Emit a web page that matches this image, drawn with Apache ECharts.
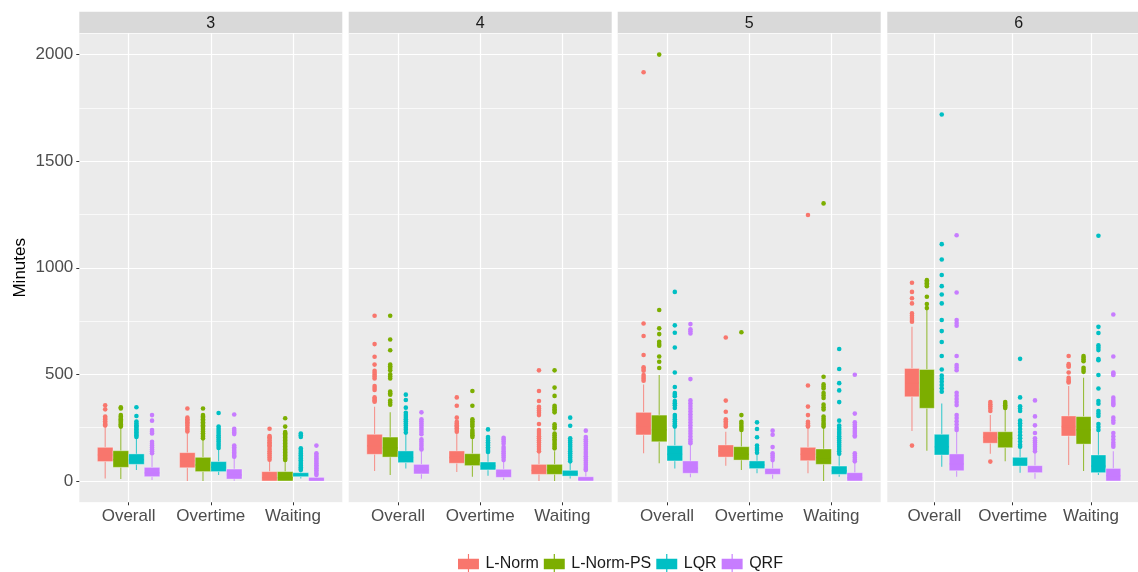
<!DOCTYPE html>
<html><head><meta charset="utf-8">
<script src="https://cdn.jsdelivr.net/npm/echarts@6/dist/echarts.min.js"></script>
<style>html,body{margin:0;padding:0;background:#fff}#c{width:1138px;height:572px}</style>
</head><body><div id="c"></div>
<script>
const facets = ['3', '4', '5', '6'];
const categories = ['Overall', 'Overtime', 'Waiting'];
const models = ['L-Norm', 'L-Norm-PS', 'LQR', 'QRF'];
const colors = ['#F8766D', '#7CAE00', '#00BFC4', '#C77CFF'];
const yTicks = [0, 500, 1000, 1500, 2000];

// box stats: [lower whisker, Q1, median, Q3, upper whisker] per category, rows = models
const box3 = [
  [[12, 91, 122, 158, 254], [0, 62, 95, 133, 230], [0, 0, 15, 44, 98]],
  [[9, 64, 100, 142, 254], [0, 44, 75, 111, 200], [0, 0, 15, 44, 98]],
  [[52, 78, 100, 127, 206], [28, 44, 65, 91, 153], [12, 20, 28, 39, 52]],
  [[5, 20, 38, 64, 127], [1.5, 9, 28, 56, 114], [0, 0, 6, 17, 28]]
];
const box4 = [
  [[47, 125, 165, 219, 348], [42, 83, 110, 141, 231], [0, 31, 50, 78, 139]],
  [[28, 112, 155, 206, 322], [20, 72, 100, 128, 206], [0, 31, 50, 78, 139]],
  [[59, 86, 110, 141, 220], [25, 52, 70, 89, 136], [12, 23, 35, 50, 92]],
  [[11, 33, 52, 78, 180], [5, 17, 35, 55, 98], [0, 0, 8, 20, 52]]
];
const box5 = [
  [[130, 216, 260, 322, 453], [72, 112, 138, 169, 231], [36, 95, 125, 158, 247]],
  [[83, 184, 240, 309, 497], [52, 98, 125, 161, 236], [0, 78, 110, 150, 255]],
  [[59, 94, 125, 166, 247], [36, 58, 75, 94, 133], [20, 31, 48, 70, 128]],
  [[17, 36, 60, 94, 177], [11, 31, 45, 59, 92], [0, 0, 15, 39, 92]]
];
const box6 = [
  [[234, 395, 460, 528, 723], [128, 177, 205, 231, 309], [75, 211, 255, 305, 445]],
  [[142, 341, 430, 523, 802], [92, 156, 200, 231, 333], [47, 173, 240, 302, 484]],
  [[67, 122, 160, 219, 364], [39, 70, 88, 111, 161], [28, 39, 70, 122, 239]],
  [[20, 48, 80, 127, 231], [11, 39, 55, 72, 139], [0, 0, 25, 59, 139]]
];

// outliers per model, per category
const out3 = [
  [[355, 336, 302, 295, 288, 280, 272, 265, 260], [340, 297, 290, 282, 275, 268, 260, 250, 240, 232], [245, 211, 205, 198, 190, 182, 175, 168, 160, 150, 140, 130, 120, 110, 100]],
  [[346, 340, 309, 302, 296, 290, 284, 278, 272, 266, 260, 255], [340, 309, 303, 297, 290, 283, 276, 269, 262, 255, 248, 240, 232, 224, 216, 208, 200], [294, 255, 230, 224, 218, 211, 204, 197, 190, 183, 176, 169, 162, 155, 148, 141, 134, 127, 120, 113, 106, 99]],
  [[346, 305, 279, 270, 262, 255, 248, 241, 234, 227, 220, 213, 206], [319, 255, 245, 235, 225, 215, 205, 195, 185, 175, 165, 155], [223, 215, 206, 153, 145, 137, 129, 121, 113, 105, 97, 89, 81, 73, 65, 57, 52]],
  [[309, 283, 239, 231, 223, 184, 175, 166, 157, 148, 139, 130], [312, 245, 236, 228, 220, 166, 158, 150, 142, 134, 126, 118, 114], [166, 130, 122, 114, 106, 98, 90, 82, 74, 66, 58, 50, 42, 34, 28]]
];
const out4 = [
  [[775, 642, 583, 546, 517, 508, 498, 490, 481, 445, 436, 427, 392, 385, 378, 372], [392, 353, 297, 278, 270, 262, 255, 247, 239, 231], [519, 422, 375, 348, 340, 330, 320, 309, 267, 239, 230, 220, 210, 200, 190, 180, 170, 160, 150, 139]],
  [[775, 664, 613, 546, 538, 530, 520, 500, 490, 481, 420, 412, 405, 377, 368, 358], [422, 353, 289, 280, 272, 264, 255, 239, 230, 222, 214, 206], [519, 438, 399, 353, 345, 337, 330, 322, 266, 256, 247, 223, 214, 205, 196, 187, 178, 170, 161, 153]],
  [[405, 380, 344, 320, 310, 300, 290, 280, 270, 260, 250, 240, 227], [242, 206, 198, 190, 182, 174, 166, 158, 150, 142, 136], [297, 259, 200, 190, 180, 170, 160, 150, 140, 130, 120, 110, 100, 92]],
  [[322, 289, 280, 270, 260, 250, 240, 230, 219, 195, 185, 175, 165, 155, 148], [203, 194, 185, 175, 159, 150, 140, 130, 120, 110, 98], [236, 206, 196, 186, 176, 166, 156, 146, 136, 126, 116, 106, 96, 86, 76, 66, 56, 52]]
];
const out5 = [
  [[1917, 739, 680, 591, 533, 525, 517, 497, 488, 479, 470], [673, 377, 325, 289, 280, 272, 264, 255], [1248, 448, 349, 309, 278, 270, 262, 255]],
  [[2000, 802, 716, 689, 653, 643, 634, 584, 559, 530], [698, 309, 278, 268, 258, 248, 239], [1302, 489, 453, 443, 434, 413, 401, 389, 358, 346, 335, 302, 292, 282, 272, 264, 255]],
  [[887, 730, 695, 626, 509, 441, 413, 405, 398, 375, 365, 355, 342, 309, 300, 290, 280, 270, 262, 255], [275, 244, 205, 166, 155, 145, 133], [619, 525, 459, 425, 370, 283, 260, 250, 240, 230, 220, 210, 200, 190, 180, 170, 160, 150, 140, 128]],
  [[736, 712, 702, 692, 478, 378, 365, 352, 339, 326, 313, 300, 287, 274, 261, 248, 235, 222, 209, 196, 185, 177], [236, 217, 159, 130, 120, 110, 98], [498, 316, 275, 265, 255, 245, 235, 225, 215, 209, 130, 120, 110, 100, 92]]
];
const out6 = [
  [[930, 887, 857, 833, 786, 775, 765, 755, 747, 166], [370, 360, 350, 340, 328, 91], [586, 548, 540, 536, 509, 484, 475, 468, 462]],
  [[942, 935, 928, 921, 914, 864, 830, 811], [370, 362, 355, 348, 342], [586, 578, 570, 562, 531, 522, 512]],
  [[1719, 1111, 1039, 966, 914, 875, 833, 755, 703, 652, 586, 523, 494, 480, 465, 450, 435, 419], [573, 392, 350, 340, 328, 283, 271, 259, 244, 230, 215, 200, 185, 170, 161], [1150, 723, 694, 636, 625, 614, 572, 566, 497, 434, 375, 362, 328, 316, 305, 267, 253, 239]],
  [[1153, 884, 755, 741, 728, 586, 544, 532, 520, 414, 400, 385, 370, 356, 309, 295, 280, 265, 250, 239], [378, 303, 261, 225, 200, 190, 180, 170, 160, 150, 139], [781, 584, 509, 503, 497, 391, 380, 370, 362, 356, 297, 285, 273, 225, 210, 195, 180, 170, 161]]
];

const boxSets = [box3, box4, box5, box6];
const outSets = [out3, out4, out5, out6];

// layout
const FONT = "'Liberation Sans', Arial, sans-serif";
const panelLeft = [79.3, 348.7, 617.7, 887.3];
const panelW = 263;
const panelTop = 33.3;
const panelH = 469;
const stripTop = 11.7;
const slot = 0.19; // dodge width in category units

const grids = [], xAxes = [], yAxes = [], series = [], graphics = [];
facets.forEach((f, p) => {
  grids.push({ left: panelLeft[p], top: panelTop, width: panelW, height: panelH, show: true, backgroundColor: '#EBEBEB', borderWidth: 0 });
  xAxes.push({
    gridIndex: p, type: 'value', min: -0.6, max: 2.6, splitNumber: 4, minInterval: 1, maxInterval: 1,
    position: 'bottom',
    axisLine: { show: false, onZero: false },
    axisTick: { show: true, length: 3, lineStyle: { color: '#333', width: 1 }, customValues: categories.map((c, i) => i) },
    axisLabel: { customValues: categories.map((c, i) => i), formatter: v => categories[Math.round(v)] || '', fontSize: 17, color: '#4D4D4D', margin: 6, fontFamily: FONT },
    splitLine: { show: true, lineStyle: { color: '#FFFFFF', width: 1.2 } }
  });
  yAxes.push({
    gridIndex: p, type: 'value', min: -100, max: 2100, splitNumber: 5, minInterval: 500, maxInterval: 500,
    position: 'left',
    axisLine: { show: false, onZero: false },
    axisTick: { show: p === 0, length: 3, lineStyle: { color: '#333' }, customValues: yTicks },
    axisLabel: { show: p === 0, customValues: yTicks, formatter: v => String(v), fontSize: 17, color: '#4D4D4D', margin: 6, fontFamily: FONT },
    splitLine: { show: true, lineStyle: { color: '#FFFFFF', width: 1.2 } },
    name: p === 0 ? 'Minutes' : '', nameLocation: 'middle', nameGap: 50,
    nameTextStyle: { fontSize: 17, color: '#000', fontFamily: FONT },
    z: 1
  });
  yAxes.push({
    gridIndex: p, type: 'value', min: -100, max: 2100, minInterval: 250, maxInterval: 250, splitNumber: 9,
    position: 'left',
    axisLine: { show: false, onZero: false }, axisTick: { show: false }, axisLabel: { show: false },
    splitLine: { show: true, lineStyle: { color: '#FCFCFC', width: 0.8 } },
    z: 0
  });
  // strip
  graphics.push({ type: 'rect', shape: { x: panelLeft[p], y: stripTop, width: panelW, height: panelTop - stripTop }, style: { fill: '#D9D9D9' }, z: 0 });
  graphics.push({ type: 'text', x: panelLeft[p] + panelW / 2, y: (stripTop + panelTop) / 2 + 1, style: { text: f, align: 'center', verticalAlign: 'middle', fontSize: 16, fill: '#1A1A1A', fontFamily: FONT }, z: 1 });

  models.forEach((name, m) => {
    const col = colors[m];
    const dodge = (m - 1.5) * slot;
    const rows = boxSets[p][m].map((b, ci) => [ci].concat(b));
    series.push({
      type: 'custom', name, xAxisIndex: p, yAxisIndex: 2 * p,
      itemStyle: { color: col },
      encode: { x: 0, y: [1, 2, 3, 4, 5] },
      data: rows, z: 3,
      renderItem: (params, api) => {
        const c = api.value(0) + dodge;
        const lo = api.coord([c, api.value(1)]);
        const q1 = api.coord([c, api.value(2)]);
        const md = api.coord([c, api.value(3)]);
        const q3 = api.coord([c, api.value(4)]);
        const hi = api.coord([c, api.value(5)]);
        const w = api.size([slot, 0])[0];
        const x = lo[0];
        return {
          type: 'group', children: [
            { type: 'line', shape: { x1: x, y1: lo[1], x2: x, y2: q1[1] }, style: { stroke: col, lineWidth: 1.1, opacity: 0.75 } },
            { type: 'line', shape: { x1: x, y1: q3[1], x2: x, y2: hi[1] }, style: { stroke: col, lineWidth: 1.1, opacity: 0.75 } },
            { type: 'rect', shape: { x: x - w / 2, y: q3[1], width: w, height: q1[1] - q3[1] }, style: { fill: col, stroke: 'rgba(255,255,255,0.35)', lineWidth: 1 } },
            { type: 'line', shape: { x1: x - w / 2 + 0.5, y1: md[1], x2: x + w / 2 - 0.5, y2: md[1] }, style: { stroke: col, lineWidth: 1.5 } }
          ]
        };
      }
    });
    const pts = [];
    outSets[p][m].forEach((vals, ci) => vals.forEach(v => pts.push([ci + dodge, v])));
    series.push({
      type: 'scatter', name, xAxisIndex: p, yAxisIndex: 2 * p,
      symbol: 'circle', symbolSize: 4.6, itemStyle: { color: col, opacity: 1 },
      data: pts, z: 4, silent: true
    });
  });
});

const keyIcon = 'path://M1,5H23V16H1Z M11.4,0H12.6V21H11.4Z';

const chart = echarts.init(document.getElementById('c'), null, { renderer: 'canvas' });
chart.setOption({
  animation: false,
  backgroundColor: '#FFFFFF',
  textStyle: { fontFamily: FONT },
  grid: grids, xAxis: xAxes, yAxis: yAxes,
  graphic: graphics,
  legend: {
    left: 453, top: 549, itemWidth: 24, itemHeight: 20, itemGap: 5, selectedMode: false, z: 10,
    textStyle: { fontSize: 16, color: '#1A1A1A', fontFamily: FONT },
    data: models.map((n, i) => ({ name: n, icon: keyIcon, itemStyle: { color: colors[i] } }))
  },
  series
});
</script></body></html>
